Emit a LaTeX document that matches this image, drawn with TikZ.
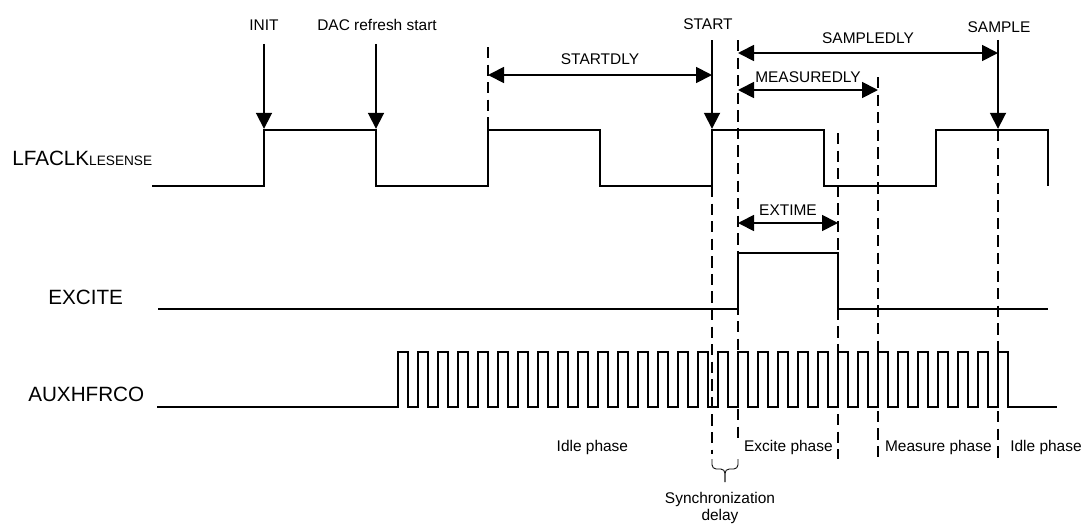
\documentclass[tikz,border=0pt]{standalone}
\usepackage{fontspec}
\setmainfont{Liberation Sans}
\usetikzlibrary{arrows.meta, positioning, calc}

\begin{document}
\begin{tikzpicture}[
    signal/.style={line width=1.3pt},
    clock/.style={line width=1.1pt},
    marker/.style={line width=1.2pt, dash pattern=on 8pt off 4.5pt},
    event/.style={-{Triangle[length=0.4cm, width=0.4cm]}, line width=1.3pt},
    timing/.style={{Triangle[length=0.4cm, width=0.4cm]}-{Triangle[length=0.4cm, width=0.4cm]}, line width=1.3pt},
    evtlabel/.style={anchor=base, font=\fontsize{11}{13}\selectfont},
    dlylabel/.style={font=\fontsize{11}{13}\selectfont},
    siglabel/.style={anchor=base west, inner sep=0pt, font=\fontsize{14.7}{16}\selectfont},
    phase/.style={anchor=base, font=\fontsize{11}{13}\selectfont},
    bracket/.style={line width=0.6pt, rounded corners=3pt}
]
    \useasboundingbox (0,0) rectangle (27.1,-13.125);

    % ================= SIGNAL NAMES =================
    \node[siglabel] (LFACLK) at (0.3,-4.125) {LFACLK\raisebox{-0.5pt}{\fontsize{9.7}{10}\selectfont LESENSE}};
    \node[siglabel] (EXCITE) at (1.2,-7.6) {EXCITE};
    \node[siglabel] (AUX) at (0.7,-10.025) {AUXHFRCO};

    % ================= WAVEFORMS =================
    % LFACLK
    \draw[signal] (3.8,-4.65) -- (6.6,-4.65) -- (6.6,-3.25) -- (9.4,-3.25) -- (9.4,-4.65)
        -- (12.2,-4.65) -- (12.2,-3.25) -- (15.0,-3.25) -- (15.0,-4.65)
        -- (17.8,-4.65) -- (17.8,-3.25) -- (20.6,-3.25) -- (20.6,-4.65)
        -- (23.4,-4.65) -- (23.4,-3.25) -- (26.2,-3.25) -- (26.2,-4.65);

    % EXCITE
    \draw[signal] (3.95,-7.725) -- (18.45,-7.725) -- (18.45,-6.325)
        -- (20.95,-6.325) -- (20.95,-7.725) -- (26.2,-7.725);

    % AUXHFRCO
    \draw[clock] (3.925,-10.175) -- (9.95,-10.175)
        \foreach \k in {0,...,30} { -- ++(0,1.375) -- ++(0.25,0) -- ++(0,-1.375) -- ++(0.25,0) }
        -- (26.425,-10.175);

    % ================= EVENTS =================
    \coordinate (initEdge) at (6.6,-3.22);
    \coordinate (dacEdge) at (9.4,-3.22);
    \coordinate (startEdge) at (17.8,-3.22);
    \coordinate (sampleEdge) at (24.95,-3.22);

    \node[evtlabel] (INIT) at (6.6,-0.75) {INIT};
    \node[evtlabel] (DAC) at (9.425,-0.75) {DAC refresh start};
    \node[evtlabel] (START) at (17.7,-0.725) {START};
    \node[evtlabel] (SAMPLE) at (24.975,-0.8) {SAMPLE};

    \draw[event] ([yshift=-2.2mm]INIT.south -| initEdge) -- (initEdge);
    \draw[event] ([yshift=-2.2mm]DAC.south -| dacEdge) -- (dacEdge);
    \draw[event] ([yshift=-1.5mm]START.south -| startEdge) -- (startEdge);
    \draw[event] ([yshift=-0.7mm]SAMPLE.south -| sampleEdge) -- (sampleEdge);

    % ================= MARKER LINES =================
    \draw[marker] (12.2,-1.175) -- (12.2,-3.25);
    \draw[marker] (17.8,-4.65) -- (17.8,-11.35);
    \draw[marker] (18.45,-1.0) -- (18.45,-11.1);
    \draw[marker] (20.95,-3.325) -- (20.95,-11.475);
    \draw[marker] (21.95,-1.925) -- (21.95,-11.475);
    \draw[marker] (24.95,-3.25) -- (24.95,-11.475);

    % ================= DELAYS =================
    \coordinate (dlyL) at (12.2,-1.875);
    \coordinate (dlyR) at (17.8,-1.875);
    \coordinate (sampL) at (18.45,-1.325);
    \coordinate (sampR) at (24.95,-1.325);
    \coordinate (measL) at (18.45,-2.25);
    \coordinate (measR) at (21.95,-2.25);
    \coordinate (exL) at (18.45,-5.575);
    \coordinate (exR) at (20.95,-5.575);

    \draw[timing] (dlyL) -- (dlyR) node[midway, above=1.2mm, dlylabel] (STARTDLY) {STARTDLY};
    \draw[timing] (sampL) -- (sampR) node[midway, above=1mm, dlylabel] (SAMPLEDLY) {SAMPLEDLY};
    \draw[timing] (measL) -- (measR) node[midway, above=0.5mm, dlylabel] (MEASUREDLY) {MEASUREDLY};
    \draw[timing] (exL) -- (exR) node[midway, above=0.5mm, dlylabel] (EXTIME) {EXTIME};

    % ================= PHASES =================
    \node[phase] (IDLEA) at (14.81,-11.275) {Idle phase};
    \node[phase] (EXCPH) at (19.71,-11.275) {Excite phase};
    \node[phase] (MEASPH) at (23.46,-11.275) {Measure phase};
    \node[phase] (IDLEB) at (26.15,-11.275) {Idle phase};

    % synchronization delay brace
    \draw[bracket] (17.8,-11.475) -- (17.8,-11.725) -- (18.125,-11.725) -- (18.125,-12.05);
    \draw[bracket] (18.45,-11.475) -- (18.45,-11.725) -- (18.125,-11.725) -- (18.125,-12.05);
    \node[anchor=north, align=center, font=\fontsize{11}{12.1}\selectfont] (SYNC) at (18.0,-12.19) {Synchronization\\delay};

\end{tikzpicture}
\end{document}
